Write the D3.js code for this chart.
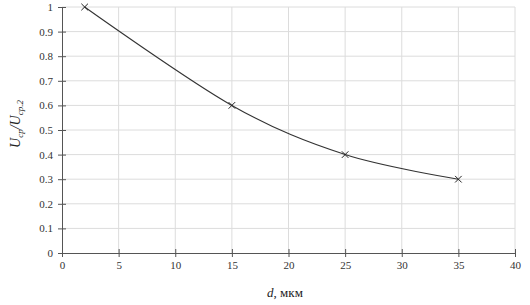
<!DOCTYPE html>
<html>
<head>
<meta charset="utf-8">
<script src="https://cdn.jsdelivr.net/npm/d3@7"></script>
<style>
  body { margin: 0; background: #fff; }
</style>
</head>
<body>
<svg id="chart"></svg>
<script>
// data
let dValues = [2, 15, 25, 35];
let ratioValues = [1, 0.6, 0.4, 0.3];
let xTicks = [0, 5, 10, 15, 20, 25, 30, 35, 40];
let yTicks = [0, 0.1, 0.2, 0.3, 0.4, 0.5, 0.6, 0.7, 0.8, 0.9, 1];

let svgWidth = 530, svgHeight = 305;
let margin = { left: 62, right: 15, top: 7, bottom: 52 };
let serif = '"Liberation Serif", "Times New Roman", serif';

let svg = d3.select('#chart')
    .attr('width', svgWidth)
    .attr('height', svgHeight)
    .style('font-family', serif);

let x = d3.scaleLinear().domain([0, 40]).range([margin.left, svgWidth - margin.right]);
let y = d3.scaleLinear().domain([0, 1]).range([svgHeight - margin.bottom, margin.top]);

// grid
svg.append('g').selectAll('line')
    .data(yTicks.filter(d => d > 0))
    .enter().append('line')
    .attr('x1', x(0)).attr('x2', x(40))
    .attr('y1', d => y(d)).attr('y2', d => y(d))
    .attr('stroke', '#dcdcdc').attr('stroke-width', 1);

svg.append('g').selectAll('line')
    .data(xTicks.filter(d => d > 0))
    .enter().append('line')
    .attr('x1', d => x(d)).attr('x2', d => x(d))
    .attr('y1', y(0)).attr('y2', y(1))
    .attr('stroke', '#dcdcdc').attr('stroke-width', 1);

// axes
let xAxis = d3.axisBottom(x).tickValues(xTicks).tickSize(0).tickPadding(8)
    .tickFormat(d3.format('d'));
let gx = svg.append('g').attr('transform', 'translate(0,' + y(0) + ')').call(xAxis)
    .attr('font-family', null);
gx.select('.domain').attr('stroke', '#555');
gx.selectAll('.tick').append('line').attr('y1', -4).attr('y2', 4).attr('stroke', '#555');
gx.selectAll('text').style('font-family', serif).style('font-size', '11px').attr('fill', '#333');

let yAxis = d3.axisLeft(y).tickValues(yTicks).tickSize(0).tickPadding(9)
    .tickFormat(d => d === 0 || d === 1 ? d3.format('d')(d) : d3.format('.1f')(d));
let gy = svg.append('g').attr('transform', 'translate(' + x(0) + ',0)').call(yAxis)
    .attr('font-family', null);
gy.select('.domain').attr('stroke', '#555');
gy.selectAll('.tick').append('line').attr('x1', -4).attr('x2', 4).attr('stroke', '#555');
gy.selectAll('text').style('font-family', serif).style('font-size', '11px').attr('fill', '#333');

// line
let points = dValues.map((d, i) => [d, ratioValues[i]]);
let line = d3.line()
    .x(d => x(d[0]))
    .y(d => y(d[1]))
    .curve(d3.curveCatmullRom.alpha(0));

svg.append('path')
    .datum(points)
    .attr('d', line)
    .attr('fill', 'none')
    .attr('stroke', '#333')
    .attr('stroke-width', 1.1);

// markers
svg.append('g').selectAll('path')
    .data(points)
    .enter().append('path')
    .attr('d', d3.symbol().type(d3.symbolX).size(30))
    .attr('transform', d => 'translate(' + x(d[0]) + ',' + y(d[1]) + ')')
    .attr('fill', 'none')
    .attr('stroke', '#222')
    .attr('stroke-width', 1);

// axis titles
let xt = svg.append('text')
    .attr('x', 285).attr('y', 297)
    .attr('text-anchor', 'middle')
    .attr('fill', '#222')
    .style('font-family', serif)
    .style('font-size', '13px');
xt.append('tspan').style('font-style', 'italic').text('d');
xt.append('tspan').text(', мкм');

let yt = svg.append('text')
    .attr('transform', 'translate(20,124) rotate(-90)')
    .attr('text-anchor', 'middle')
    .attr('fill', '#222')
    .style('font-family', serif)
    .style('font-size', '14px')
    .style('font-style', 'italic');
yt.append('tspan').text('U');
yt.append('tspan').attr('dy', 3).style('font-size', '9px').text('ср');
yt.append('tspan').attr('dy', -3).text('/U');
yt.append('tspan').attr('dy', 3).style('font-size', '9px').text('ср.2');
</script>
</body>
</html>
